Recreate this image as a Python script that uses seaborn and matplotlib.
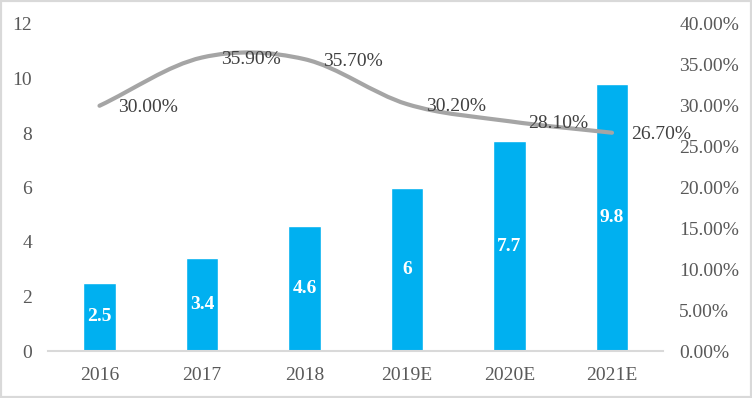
import matplotlib
matplotlib.use("Agg")
import matplotlib.pyplot as plt
import seaborn as sns
import pandas as pd
import numpy as np
from matplotlib.path import Path
from matplotlib.patches import PathPatch, Rectangle
from matplotlib.ticker import FuncFormatter

years = ["2016", "2017", "2018", "2019E", "2020E", "2021E"]
sales = [2.5, 3.4, 4.6, 6, 7.7, 9.8]
growth = [0.300, 0.359, 0.357, 0.302, 0.281, 0.267]
growth_labels = ["30.00%", "35.90%", "35.70%", "30.20%", "28.10%", "26.70%"]
left_ticks = [0, 2, 4, 6, 8, 10, 12]
right_ticks = [0, 0.05, 0.10, 0.15, 0.20, 0.25, 0.30, 0.35, 0.40]

sns.set_theme(style="white")
plt.rcParams["font.family"] = ["Liberation Serif", "DejaVu Serif"]

FS = 14
TICK_C = "#595959"
LBL_C = "#404040"

fig = plt.figure(figsize=(7.52, 3.98), dpi=100)
ax = fig.add_axes([48.25 / 752, 47 / 398, (663.25 - 48.25) / 752, (351 - 24) / 398])

df = pd.DataFrame({"year": years, "sales": sales})
sns.barplot(data=df, x="year", y="sales", ax=ax, color="#00B0F0", saturation=1,
            width=0.317, errorbar=None)
ax.bar_label(ax.containers[0], labels=[f"{v:g}" for v in sales], label_type="center",
             color="white", fontweight="bold", fontsize=FS)

ax.set_xlim(-0.5, len(years) - 0.5)
ax.set_ylim(0, 12)
ax.set_yticks(left_ticks)
ax.set_xlabel("")
ax.set_ylabel("")
for s in ["top", "right", "left"]:
    ax.spines[s].set_visible(False)
ax.spines["bottom"].set_color("#D9D9D9")
ax.spines["bottom"].set_linewidth(1.5)
ax.tick_params(axis="both", length=0, labelsize=FS, labelcolor=TICK_C)
ax.tick_params(axis="y", pad=11.5)
ax.tick_params(axis="x", pad=11.5)

ax2 = ax.twinx()
ax2.set_ylim(0, 0.4)
ax2.set_yticks(right_ticks)
ax2.yaxis.set_major_formatter(FuncFormatter(lambda v, p: f"{v*100:.2f}%"))
for s in ["top", "right", "left", "bottom"]:
    ax2.spines[s].set_visible(False)
ax2.tick_params(axis="y", length=0, labelsize=FS, labelcolor=TICK_C, pad=11.5)
ax2.grid(False)
ax.grid(False)

# smoothed line (Catmull-Rom style Bezier as in Excel smoothing)
xs = np.arange(len(growth), dtype=float)
ys = np.array(growth, dtype=float)
n = len(xs)
verts = [(xs[0], ys[0])]
codes = [Path.MOVETO]
def tangent(i):
    if i == 0:
        return (xs[1] - xs[0], ys[1] - ys[0])
    if i == n - 1:
        return (xs[-1] - xs[-2], ys[-1] - ys[-2])
    return ((xs[i + 1] - xs[i - 1]) / 2, (ys[i + 1] - ys[i - 1]) / 2)
for i in range(n - 1):
    t0 = tangent(i)
    t1 = tangent(i + 1)
    c1 = (xs[i] + t0[0] / 3, ys[i] + t0[1] / 3)
    c2 = (xs[i + 1] - t1[0] / 3, ys[i + 1] - t1[1] / 3)
    verts += [c1, c2, (xs[i + 1], ys[i + 1])]
    codes += [Path.CURVE4] * 3
patch = PathPatch(Path(verts, codes), facecolor="none", edgecolor="#A5A5A5",
                  linewidth=3, capstyle="round", joinstyle="round")
ax2.add_patch(patch)

for xi, yi, lab in zip(xs, ys, growth_labels):
    ax2.annotate(lab, (xi, yi), xytext=(13.5, -1.5), textcoords="offset points",
                 ha="left", va="center", fontsize=FS, color=LBL_C)

fig.patches.append(Rectangle((0, 0), 1, 1, transform=fig.transFigure, fill=False,
                             edgecolor="#D9D9D9", linewidth=3))

fig.savefig("out.png", dpi=100)
